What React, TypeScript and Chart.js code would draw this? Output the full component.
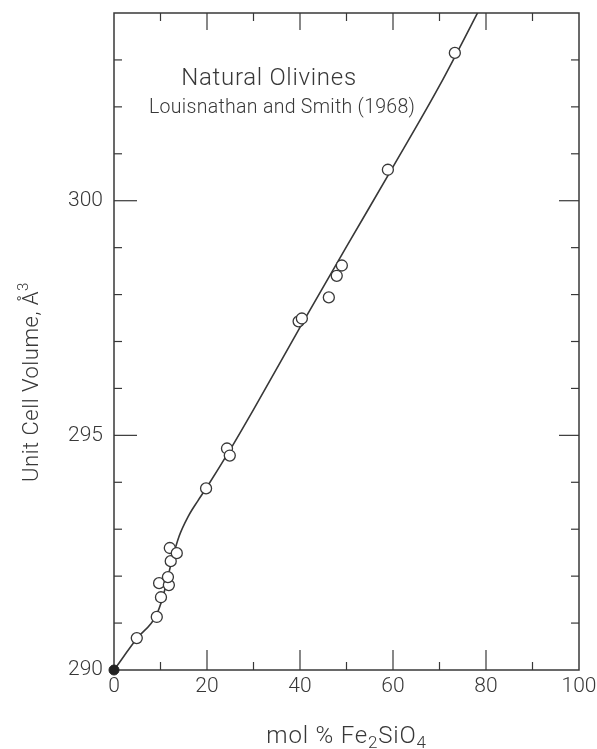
import React, { useEffect, useRef } from "react";
import { Chart, registerables } from "chart.js";

Chart.register(...registerables);

// ---- data ----
const xTickValues = [0, 20, 40, 60, 80, 100];
const xMinorTicks = [10, 30, 50, 70, 90];
const yTickValues = [290, 295, 300];
const yMinorTicks = [291, 292, 293, 294, 296, 297, 298, 299, 301, 302, 303];

// open circles: mol % Fe2SiO4 vs unit cell volume
const fePercent = [4.9, 9.2, 10.1, 9.7, 11.8, 11.6, 12.2, 12.0, 13.5, 19.8, 24.3, 24.9, 39.7, 40.4, 46.2, 47.9, 49.0, 58.9, 73.3];
const cellVolume = [290.68, 291.13, 291.55, 291.85, 291.81, 291.98, 292.32, 292.6, 292.49, 293.87, 294.72, 294.57, 297.43, 297.49, 297.94, 298.4, 298.62, 300.66, 303.15];

// filled end-member point
const endMemberX = [0];
const endMemberY = [290];

// drawn curve
const curveX = [0, 5, 9, 10.5, 11.5, 12.5, 14, 16, 18, 20, 25, 30, 40, 50, 60, 70, 80];
const curveY = [290, 290.68, 291.15, 291.55, 291.95, 292.35, 292.85, 293.28, 293.6, 293.9, 294.7, 295.55, 297.3, 299.02, 300.72, 302.45, 304.35];

const titleLine1 = "Natural Olivines";
const titleLine2 = "Louisnathan and Smith (1968)";
const yTitleMain = "Unit Cell Volume, Å";
const yTitleSup = "3";
const xTitleParts: [string, boolean][] = [["mol % Fe", false], ["2", true], ["SiO", false], ["4", true]];

const INK = "#383838";
const FONT = "Roboto, 'DejaVu Sans', sans-serif";
const W = "300";

const framePlugin = {
  id: "frame",
  beforeDatasetsDraw(chart: any) {
    const { ctx, chartArea: a, scales } = chart;
    const xs = scales.x;
    const ys = scales.y;
    ctx.save();
    ctx.strokeStyle = INK;
    ctx.lineWidth = 1.5;
    ctx.strokeRect(a.left, a.top, a.right - a.left, a.bottom - a.top);
    ctx.lineWidth = 1.2;
    const seg = (x1: number, y1: number, x2: number, y2: number) => {
      ctx.beginPath();
      ctx.moveTo(x1, y1);
      ctx.lineTo(x2, y2);
      ctx.stroke();
    };
    xTickValues.forEach((v) => {
      if (v === xs.min || v === xs.max) return;
      const px = xs.getPixelForValue(v);
      seg(px, a.bottom, px, a.bottom - 20);
      seg(px, a.top, px, a.top + 17);
    });
    xMinorTicks.forEach((v) => {
      const px = xs.getPixelForValue(v);
      seg(px, a.bottom, px, a.bottom - 8);
      seg(px, a.top, px, a.top + 8);
    });
    yTickValues.forEach((v) => {
      if (v === ys.min || v === ys.max) return;
      const py = ys.getPixelForValue(v);
      seg(a.left, py, a.left + 23, py);
      seg(a.right, py, a.right - 20, py);
    });
    yMinorTicks.forEach((v) => {
      const py = ys.getPixelForValue(v);
      seg(a.left, py, a.left + 8, py);
      seg(a.right, py, a.right - 8, py);
    });
    ctx.restore();
  },
  afterDraw(chart: any) {
    const { ctx, chartArea: a } = chart;
    ctx.save();
    ctx.fillStyle = INK;
    ctx.textBaseline = "alphabetic";

    // inset title
    ctx.font = `${W} 24px ${FONT}`;
    (ctx as any).letterSpacing = "0.7px";
    ctx.textAlign = "center";
    ctx.fillText(titleLine1, a.left + 155, a.top + 72);
    ctx.font = `${W} 19.5px ${FONT}`;
    (ctx as any).letterSpacing = "0.3px";
    ctx.textAlign = "left";
    ctx.fillText(titleLine2, a.left + 35, a.top + 100);

    // x axis title with subscripts
    ctx.textAlign = "left";
    (ctx as any).letterSpacing = "0.8px";
    const mainF = `${W} 24px ${FONT}`;
    const subF = `${W} 17px ${FONT}`;
    let total = 0;
    xTitleParts.forEach(([t, sub]) => {
      ctx.font = sub ? subF : mainF;
      total += ctx.measureText(t).width;
    });
    let x = (a.left + a.right) / 2 - total / 2;
    const base = a.bottom + 73;
    xTitleParts.forEach(([t, sub]) => {
      ctx.font = sub ? subF : mainF;
      ctx.fillText(t, x, sub ? base + 5 : base);
      x += ctx.measureText(t).width;
    });

    // y axis title, rotated, with superscript
    ctx.translate(38, 382);
    ctx.rotate(-Math.PI / 2);
    const yMainF = `${W} 22px ${FONT}`;
    const ySupF = `${W} 15px ${FONT}`;
    (ctx as any).letterSpacing = "0.5px";
    ctx.font = yMainF;
    const w1 = ctx.measureText(yTitleMain).width;
    ctx.font = ySupF;
    const w2 = ctx.measureText(yTitleSup).width;
    let tx = -(w1 + w2) / 2;
    ctx.font = yMainF;
    ctx.fillText(yTitleMain, tx, 0);
    tx += w1;
    ctx.font = ySupF;
    ctx.fillText(yTitleSup, tx, -10);
    ctx.restore();
  },
};

export default function App() {
  const ref = useRef<HTMLCanvasElement>(null);
  useEffect(() => {
    const canvas = ref.current!;
    const chart = new Chart(canvas, {
      type: "scatter",
      data: {
        datasets: [
          {
            label: "Natural olivines",
            data: fePercent.map((x, i) => ({ x, y: cellVolume[i] })),
            pointRadius: 5.5,
            pointBorderWidth: 1.3,
            pointBackgroundColor: "#ffffff",
            pointBorderColor: INK,
            order: 0,
          },
          {
            label: "Forsterite",
            data: endMemberX.map((x, i) => ({ x, y: endMemberY[i] })),
            pointRadius: 5,
            pointBorderWidth: 1,
            pointBackgroundColor: "#222222",
            pointBorderColor: "#222222",
            clip: false as any,
            order: 1,
          },
          {
            label: "Curve",
            data: curveX.map((x, i) => ({ x, y: curveY[i] })),
            showLine: true,
            pointRadius: 0,
            borderColor: INK,
            borderWidth: 1.6,
            cubicInterpolationMode: "monotone",
            fill: false,
            order: 2,
          } as any,
        ],
      },
      options: {
        animation: false,
        responsive: false,
        devicePixelRatio: 1,
        events: [],
        layout: { padding: { left: 0, right: 18, top: 13, bottom: 0 } },
        plugins: { legend: { display: false }, tooltip: { enabled: false } },
        scales: {
          x: {
            type: "linear",
            min: 0,
            max: 100,
            afterBuildTicks: (s: any) => {
              s.ticks = xTickValues.map((value) => ({ value }));
            },
            afterFit: (s: any) => {
              s.height = 79;
              s.paddingLeft = 0;
              s.paddingRight = 0;
            },
            grid: { display: false, drawTicks: false },
            border: { display: false },
            ticks: {
              padding: 4,
              color: INK,
              font: { family: FONT, size: 21, weight: W as any },
              maxRotation: 0,
              autoSkip: false,
            },
          },
          y: {
            type: "linear",
            min: 290,
            max: 304,
            afterBuildTicks: (s: any) => {
              s.ticks = yTickValues.map((value) => ({ value }));
            },
            afterFit: (s: any) => {
              s.width = 114;
              s.paddingTop = 0;
              s.paddingBottom = 0;
            },
            grid: { display: false, drawTicks: false },
            border: { display: false },
            ticks: {
              padding: 11,
              color: INK,
              font: { family: FONT, size: 21, weight: W as any },
              autoSkip: false,
            },
          },
        },
      },
      plugins: [framePlugin],
    });
    return () => chart.destroy();
  }, []);
  return (
    <div style={{ position: "absolute", left: 0, top: 0, width: 597, height: 749, background: "#fff" }}>
      <canvas ref={ref} width={597} height={749} style={{ display: "block" }} />
    </div>
  );
}
